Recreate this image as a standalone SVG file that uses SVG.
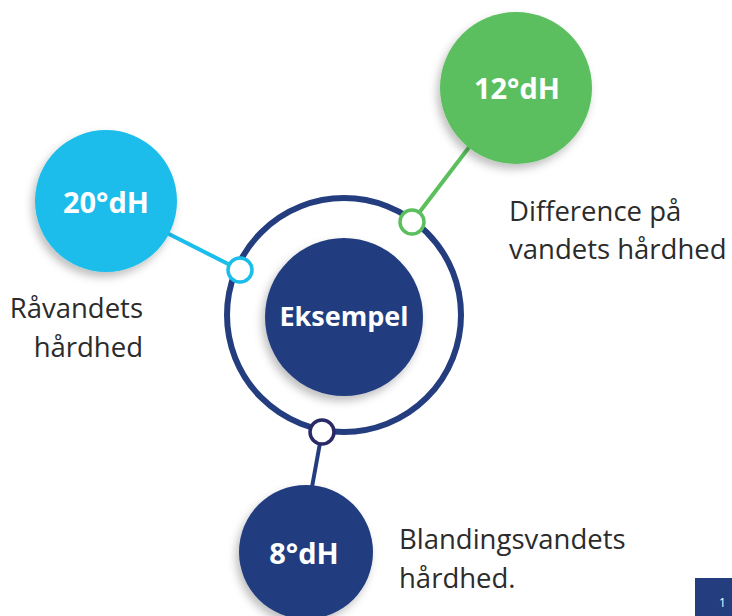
<svg xmlns="http://www.w3.org/2000/svg" width="732" height="616" viewBox="0 0 732 616">
<style>
.lbl{font-family:"Open Sans",Lato,"Liberation Sans",sans-serif;font-size:27.5px;fill:#2b2b2b}
.big{font-family:"Open Sans",Lato,"Liberation Sans",sans-serif;font-weight:bold;fill:#fff;text-anchor:middle}
.dot{fill:#fff;stroke-width:3.5}
</style>
<defs>
<filter id="sh" x="-20%" y="-20%" width="140%" height="140%">
<feDropShadow dx="-3" dy="5" stdDeviation="4" flood-color="#000" flood-opacity="0.25"/>
</filter>
</defs>
<rect width="732" height="616" fill="#fff"/>
<g id="connectors" stroke-linecap="round">
<line x1="165" y1="232" x2="240" y2="270" stroke="#1bbdeb" stroke-width="4"/>
<line x1="470" y1="146" x2="412" y2="222" stroke="#5cbf5e" stroke-width="4"/>
<line x1="322" y1="432" x2="312" y2="487" stroke="#233d7f" stroke-width="4"/>
</g>
<g id="ring">
<circle cx="344" cy="315" r="117" fill="none" stroke="#233d7f" stroke-width="6"/>
</g>
<g id="center">
<circle cx="344" cy="317" r="79" fill="#233d7f" filter="url(#sh)"/>
<text class="big" x="344" y="326" font-size="27">Eksempel</text>
</g>
<g id="node-green">
<circle cx="516" cy="88" r="76" fill="#5cbf5e" filter="url(#sh)"/>
<text class="big" x="517" y="99" font-size="29">12°dH</text>
</g>
<g id="node-cyan">
<circle cx="106" cy="201" r="71" fill="#1bbdeb" filter="url(#sh)"/>
<text class="big" x="106" y="213" font-size="29">20°dH</text>
</g>
<g id="node-navy">
<circle cx="306" cy="552" r="67" fill="#233d7f" filter="url(#sh)"/>
<text class="big" x="304" y="564" font-size="29">8°dH</text>
</g>
<g id="dot-cyan"><circle class="dot" cx="240" cy="270" r="12" stroke="#1bbdeb"/></g>
<g id="dot-green"><circle class="dot" cx="412" cy="222" r="12" stroke="#5cbf5e"/></g>
<g id="dot-navy"><circle class="dot" cx="322" cy="432" r="12" stroke="#2a2a66"/></g>
<g id="label-green">
<text class="lbl" x="509" y="221">Difference på</text>
<text class="lbl" x="509" y="259">vandets hårdhed</text>
</g>
<g id="label-cyan">
<text class="lbl" x="143" y="318" text-anchor="end">Råvandets</text>
<text class="lbl" x="143" y="357" text-anchor="end">hårdhed</text>
</g>
<g id="label-navy">
<text class="lbl" x="399" y="549">Blandingsvandets</text>
<text class="lbl" x="399" y="588">hårdhed.</text>
</g>
<g id="page">
<rect x="695" y="578" width="37" height="38" fill="#233d7f"/>
<text x="719" y="607" font-family="'Open Sans','Liberation Sans',sans-serif" font-size="12" fill="#fff">1</text>
</g>
</svg>
